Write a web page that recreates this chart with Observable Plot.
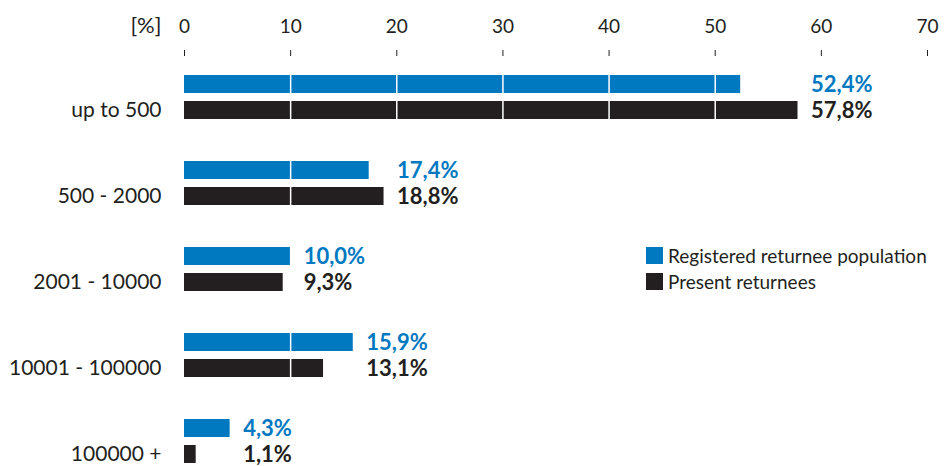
<!DOCTYPE html>
<html><head><meta charset="utf-8">
<script src="https://cdn.jsdelivr.net/npm/d3@7"></script>
<script src="https://cdn.jsdelivr.net/npm/@observablehq/plot@0.6"></script>
<style>
body{margin:0;background:#fff;}
#wrap{position:relative;width:945px;height:466px;font-family:Lato,sans-serif;color:#231f20;}
#legend{position:absolute;left:646px;top:242px;}
.lg-swatch{height:26px;padding-bottom:0 !important;}
.lg-swatch svg{margin-right:5px !important;}
</style></head><body><div id="wrap"><div id="chart"></div><div id="legend"></div></div>
<script>
const categories = ["up to 500", "500 - 2000", "2001 - 10000", "10001 - 100000", "100000 +"];
const series = ["Registered returnee population", "Present returnees"];
const registered = [52.4, 17.4, 10.0, 15.9, 4.3];
const present = [57.8, 18.8, 9.3, 13.1, 1.1];
const xTicks = [0, 10, 20, 30, 40, 50, 60, 70];
const colors = ["#0079c1", "#231f20"];

const fmt = v => v.toFixed(1).replace(".", ",") + "%";
const rows = categories.flatMap((c, i) => [
  {category: c, series: series[0], value: registered[i], groupMax: Math.max(registered[i], present[i])},
  {category: c, series: series[1], value: present[i], groupMax: Math.max(registered[i], present[i])}
]);
const reg = rows.filter(d => d.series === series[0]);
const pre = rows.filter(d => d.series === series[1]);

const chart = Plot.plot({
  width: 945, height: 466,
  marginLeft: 184, marginRight: 18, marginTop: 73, marginBottom: 2,
  style: {fontFamily: "Lato, sans-serif", color: "#231f20", background: "#fff"},
  x: {domain: [0, 70]},
  y: {domain: categories, paddingInner: 0.494, paddingOuter: 0},
  color: {domain: series, range: colors},
  marks: [
    Plot.barX(reg, {x: "value", y: "category", fill: "series", insetBottom: 26}),
    Plot.barX(pre, {x: "value", y: "category", fill: "series", insetTop: 26}),
    Plot.gridX(xTicks.filter(d => d > 0), {stroke: "white", strokeOpacity: 1, strokeWidth: 1.5}),
    Plot.text(reg, {x: "groupMax", y: "category", text: d => fmt(d.value), dx: 13, dy: -13, textAnchor: "start", fill: colors[0], fontWeight: "bold", fontSize: 22}),
    Plot.text(pre, {x: "groupMax", y: "category", text: d => fmt(d.value), dx: 13, dy: 13, textAnchor: "start", fill: colors[1], fontWeight: "bold", fontSize: 22}),
    Plot.axisX(xTicks, {anchor: "top", tickSize: 6, tickPadding: 17, dy: -18, fontSize: 19, label: null}),
    Plot.axisY({tickSize: 0, tickPadding: 23, dy: 13, fontSize: 21, label: null}),
    Plot.text(["[%]"], {frameAnchor: "top-left", textAnchor: "end", lineAnchor: "bottom", dx: -23, dy: -41, fontSize: 22, fill: "#231f20"})
  ]
});
document.getElementById("chart").appendChild(chart);

const legend = Plot.legend({
  color: {type: "categorical", domain: series, range: colors},
  legend: "swatches", columns: 1, swatchSize: 17, className: "lg",
  style: {fontSize: "19px", fontFamily: "Lato, sans-serif", color: "#231f20"}
});
document.getElementById("legend").appendChild(legend);
</script>
</body></html>
